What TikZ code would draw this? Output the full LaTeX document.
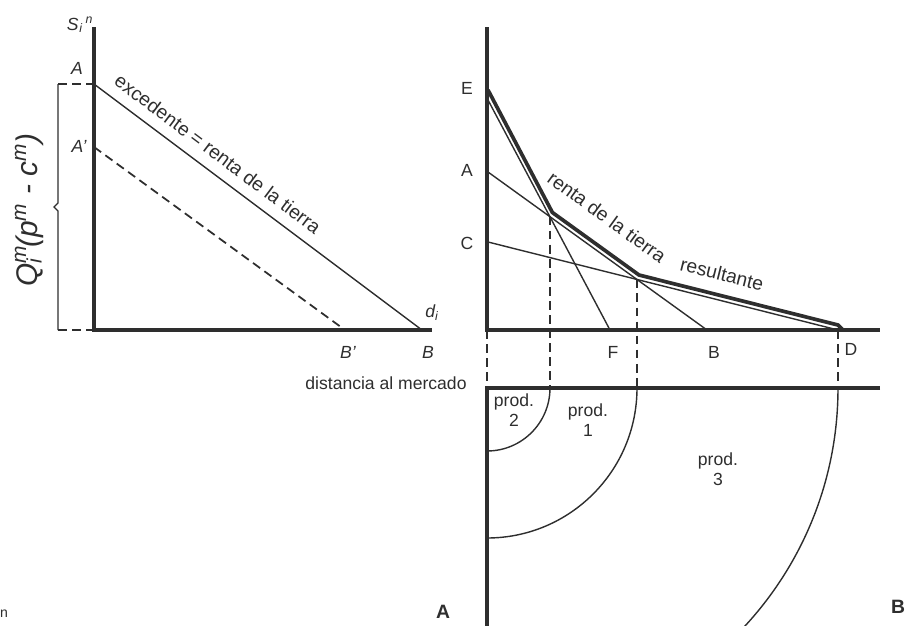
\documentclass[tikz,border=0pt]{standalone}
\usepackage{fontspec}
\setmainfont{Liberation Sans}
\definecolor{ink}{HTML}{2E2E2E}
\begin{document}
\begin{tikzpicture}[x=0.02cm,y=-0.02cm,
  axisline/.style={line width=2.2pt, draw=ink},
  thinl/.style={line width=0.8pt, draw=ink},
  envline/.style={line width=2.1pt, draw=ink, line join=miter},
  dashl/.style={line width=1pt, draw=ink, dash pattern=on 5pt off 3pt},
  lbl/.style={text=ink, inner sep=0pt, font=\fontsize{10}{12}\selectfont},
  ilbl/.style={text=ink, inner sep=0pt, font=\fontsize{10}{12}\selectfont\itshape},
  toplbl/.style={text=ink, inner sep=0pt, font=\fontsize{11}{13}\selectfont},
  prodlbl/.style={text=ink, inner sep=0pt, align=center, font=\fontsize{10}{11.5}\selectfont},
  panellbl/.style={text=ink, inner sep=0pt, font=\fontsize{11}{13}\selectfont\bfseries}]
\useasboundingbox (0,0) rectangle (914,626);
% ---------- left panel ----------
\coordinate (O1) at (94,330);
\coordinate (Ytop1) at (94,27);
\coordinate (Xend1) at (432,330);
\coordinate (A1) at (94,84);
\coordinate (Ap1) at (94,147);
\coordinate (B1) at (422,330);
\coordinate (Bp1) at (345,330);
\coordinate (brT) at (58,84);
\coordinate (brB) at (58,330);
\coordinate (brM1) at (58,203);
\coordinate (brM) at (54,207);
\coordinate (brM2) at (58,211);
\draw[axisline] (Ytop1) -- (O1) -- (Xend1);
\draw[thinl] (A1) -- (B1);
\draw[dashl] (Ap1) -- (Bp1);
\draw[dashl] (brT) -- (A1);
\draw[dashl] (brB) -- (O1);
\draw[thinl] (brT) -- (brM1) -- (brM) -- (brM2) -- (brB);
\node[ilbl] (Slbl) at (80,25) {S\rlap{\textsubscript{\kern0.5pt i}}\textsuperscript{\kern4pt n}};
\node[ilbl] (Albl) at (77,68) {A};
\node[ilbl] (Aplbl) at (79,146) {A'};
\node[ilbl] (Bplbl) at (348,352) {B'};
\node[ilbl] (Blbl) at (428,352) {B};
\node[ilbl] (dlbl) at (432,313) {d\textsubscript{i}};
\node[text=ink, inner sep=0pt, rotate=90, font=\fontsize{17}{19}\selectfont\itshape] (Qlbl) at (29,210)
  {Q\rlap{\textsuperscript{m}}\textsubscript{i}\kern6pt(p\textsuperscript{m} - c\textsuperscript{m})};
\node[toplbl, rotate=-36.87] (exlbl) at (218,154) {excedente = renta de la tierra};
\node[lbl] (distlbl) at (386,383) {distancia al mercado};
\node[panellbl] (panelA) at (443,612) {A};
\node[lbl, font=\fontsize{8}{9}\selectfont] (nfrag) at (4,614) {n};
% ---------- right panel ----------
\coordinate (O2) at (487,330);
\coordinate (Ytop2) at (487,27);
\coordinate (Xend2) at (880,330);
\coordinate (E2) at (488,100);
\coordinate (F2) at (610,330);
\coordinate (A2) at (488,172);
\coordinate (B2) at (707,330);
\coordinate (C2) at (488,242);
\coordinate (D2) at (838,330);
\coordinate (O3) at (487,388);
\coordinate (Xend3) at (880,388);
\coordinate (Ybot3) at (487,626);
\coordinate (K1) at (intersection of E2--F2 and A2--B2);
\coordinate (K2) at (intersection of A2--B2 and C2--D2);
\coordinate (env0) at (488,90);
\coordinate (env1) at (552.4,212.5);
\coordinate (env2) at (639,275);
\coordinate (env3) at (838,325);
\coordinate (env4) at (843,330);
\draw[axisline] (Ytop2) -- (O2) -- (Xend2);
\draw[thinl] (E2) -- (F2);
\draw[thinl] (A2) -- (B2);
\draw[thinl] (C2) -- (D2);
\draw[envline] (env0) -- (env1) -- (env2) -- (env3) -- (env4);
\draw[dashl] (O2) -- (O3);
\draw[dashl] (K1) -- (K1 |- O3);
\draw[dashl] (K2) -- (K2 |- O3);
\draw[dashl] (D2) -- (D2 |- O3);
\draw[axisline] (Xend3) -- (O3) -- (Ybot3);
\begin{scope}
\clip (O3) rectangle (914,626);
\draw[thinl] (O3) ++(63,0) arc[start angle=0, end angle=90, radius=63];
\draw[thinl] (O3) ++(150,0) arc[start angle=0, end angle=90, radius=150];
\draw[thinl] (O3) ++(351,0) arc[start angle=0, end angle=90, radius=351];
\end{scope}
\node[lbl] (Elbl) at (467,88) {E};
\node[lbl] (A2lbl) at (467,170) {A};
\node[lbl] (C2lbl) at (467,243) {C};
\node[lbl] (Flbl) at (613,352) {F};
\node[lbl] (B2lbl) at (714,352) {B};
\node[lbl] (Dlbl) at (851,349) {D};
\node[toplbl, rotate=-36] (rentalbl) at (607,217) {renta de la tierra};
\node[toplbl, rotate=-14] (reslbl) at (722,274) {resultante};
\node[prodlbl] (p2) at (514,410) {prod.\\2};
\node[prodlbl] (p1) at (588,420) {prod.\\1};
\node[prodlbl] (p3) at (718,469) {prod.\\3};
\node[panellbl] (panelB) at (898,607) {B};
\end{tikzpicture}
\end{document}
